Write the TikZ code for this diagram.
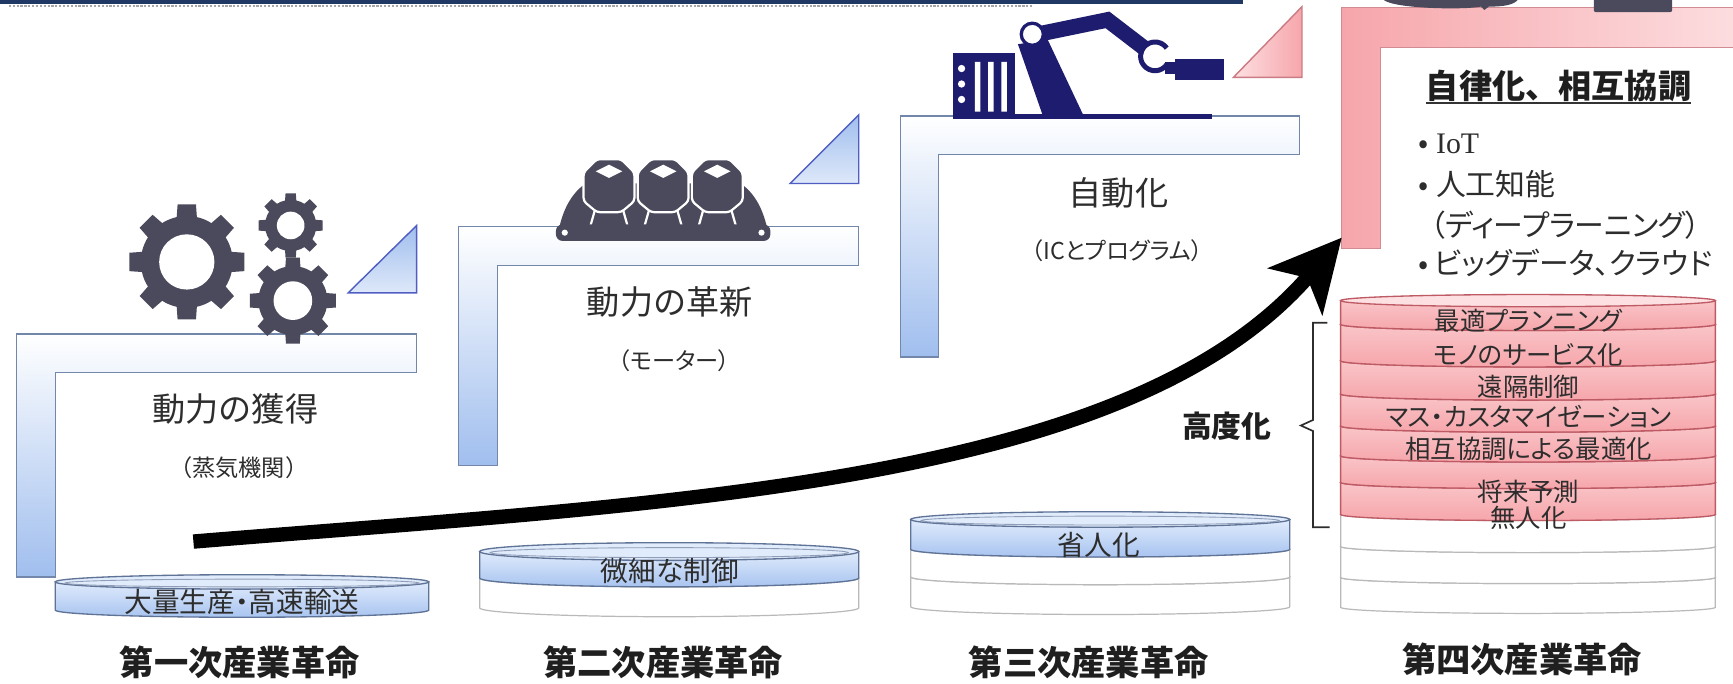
\documentclass[tikz,border=0pt]{standalone}
\usepackage{fontspec}
\setmainfont{Noto Sans CJK JP}
\newfontfamily\kanafont[RawFeature=+palt]{Noto Sans CJK JP}
\newfontfamily\latinserif{Liberation Serif}
\usetikzlibrary{arrows.meta}

\definecolor{navybar}{RGB}{31,56,100}
\definecolor{stepblue}{RGB}{160,190,238}
\definecolor{stepline}{RGB}{115,135,170}
\definecolor{discblue}{RGB}{168,196,240}
\definecolor{disctop}{RGB}{224,235,252}
\definecolor{discline}{RGB}{95,115,150}
\definecolor{pinkfill}{RGB}{246,166,171}
\definecolor{pinklight}{RGB}{253,224,226}
\definecolor{pinkline}{RGB}{190,90,100}
\definecolor{icongray}{RGB}{74,74,92}
\definecolor{robotnavy}{RGB}{30,28,110}
\definecolor{textgray}{RGB}{45,45,45}

\newcommand{\tsize}[1]{\fontsize{#1}{#1}\selectfont}
% L-shaped step: left, top, right end, bar bottom, post right, post bottom, style
\newcommand{\lstep}[7]{%
  \path[#7] (#1,#2) -- (#3,#2) -- (#3,#4) -- (#5,#4) -- (#5,#6) -- (#1,#6) -- cycle;}
% flat cylinder band: centre x, half width, top y, bottom y, ellipse half height, side style, top style
\newcommand{\discband}[7]{%
  \path[#6] (#1-#2,#3) -- (#1-#2,#4)
    arc[start angle=180,end angle=360,x radius=#2pt,y radius=#5pt] -- (#1+#2,#3) -- cycle;
  \path[#7] (#1,#3) ellipse[x radius=#2pt,y radius=#5pt];}

\tikzset{
  bluestep/.style={draw=stepline, line width=1.3pt, top color=white, bottom color=stepblue},
  pinkstep/.style={draw=pinkline!70, line width=1.3pt, left color=pinkfill, right color=pinklight},
  bluetri/.style={draw=stepline!70!blue, line width=1.3pt, top color=stepblue, bottom color=stepblue!35},
  pinktri/.style={draw=pinkline!80, line width=1.3pt, left color=pinklight, right color=pinkfill},
  blueside/.style={draw=discline, line width=1.2pt, top color=disctop, bottom color=discblue},
  bluetop/.style={draw=discline, line width=1.2pt, fill=disctop},
  whiteside/.style={draw=gray!55, line width=1.1pt, fill=white},
  whitetop/.style={draw=gray!55, line width=1.1pt, fill=white},
  pinkside/.style={draw=pinkline, line width=1.2pt, top color=pinkfill!65!white, bottom color=pinkfill},
  pinktop/.style={draw=pinkline, line width=1.2pt, fill=pinklight},
  headtext/.style={font=\tsize{30}, text=textgray, inner sep=0pt},
  subtext/.style={font=\tsize{21}, text=textgray, inner sep=0pt},
  subtextp/.style={font=\kanafont\tsize{21}, text=textgray, inner sep=0pt},
  eratext/.style={font=\bfseries\tsize{31}, text=black!88, inner sep=0pt},
  disctext/.style={font=\kanafont\tsize{25}, text=textgray, inner sep=0pt},
  stacktext/.style={font=\kanafont\tsize{23}, text=textgray, inner sep=0pt},
  boldhead/.style={font=\bfseries\tsize{30}, text=black!88, inner sep=0pt},
  bullettext/.style={font=\kanafont\tsize{27}, text=textgray, inner sep=0pt, anchor=west},
  pics/cog/.style args={#1/#2/#3}{code={
    \fill[icongray] (0,0) circle[radius=#2*0.8pt];
    \foreach \k in {1,...,#1}{
      \fill[icongray, rotate=\k*360/#1] (-#2*0.23,0) -- (-#2*0.16,#2) -- (#2*0.16,#2) -- (#2*0.23,0) -- cycle;
    }
    \fill[white] (0,0) circle[radius=#3pt];
  }}
}

\begin{document}
\begin{tikzpicture}[x=1pt,y=-1pt]
\useasboundingbox (0,0) rectangle (1568,618);
\fill[white] (0,0) rectangle (1568,618);

% header rule
\fill[navybar] (0,0) rectangle (1125,4);
\draw[gray!70, line width=2pt, dash pattern=on 2pt off 1.5pt] (8,5.5) -- (935,5.5);

% ---- steps ----
\lstep{15}{302}{377}{337}{50}{522}{bluestep}
\lstep{415}{205}{777}{240}{450}{421}{bluestep}
\lstep{815}{105}{1176}{140}{849}{323}{bluestep}
\lstep{1214}{7}{1590}{43}{1249}{225}{pinkstep}

\path[bluetri] (315,265) -- (377,265) -- (377,204) -- cycle;
\path[bluetri] (715,166) -- (777,166) -- (777,104) -- cycle;
\path[pinktri] (1116,70) -- (1178,70) -- (1178,6) -- cycle;

% ---- gears ----
\pic at (169,237) {cog=8/52/25};
\pic at (263,204) {cog=8/29/12.5};
\pic at (265,272) {cog=8/39/17.5};

% ---- conveyor with three blocks ----
\fill[icongray] (506,206) .. controls (510,188) and (518,174) .. (530,166) -- (670,166)
  .. controls (682,174) and (690,188) .. (694,206) -- cycle;
\foreach \cx in {551,600,649}{
  \filldraw[fill=icongray, draw=white, line width=2pt, rounded corners=3pt]
    (\cx-23,156) -- (\cx-11,144) -- (\cx+11,144) -- (\cx+23,156) -- (\cx+23,182)
    -- (\cx+11,192) -- (\cx-11,192) -- (\cx-23,182) -- cycle;
  \fill[white] (\cx-12,155) -- (\cx,149) -- (\cx+12,155) -- (\cx,161) -- cycle;
  \draw[white, line width=2pt] (\cx-13,191) -- (\cx-17,205) (\cx+13,191) -- (\cx+17,205);
}
\fill[icongray, rounded corners=6pt] (503,203) rectangle (697,218);
\fill[white] (511,210.5) circle[radius=2.8pt] (689,210.5) circle[radius=2.8pt];

% ---- robot arm ----
\fill[robotnavy] (862,48) rectangle (918,106);
\fill[white] (882,56) rectangle (887,101) (894,56) rectangle (899,101) (906,56) rectangle (911,101);
\fill[white] (870,62) circle[radius=3.3pt] (870,76) circle[radius=3.3pt] (870,90) circle[radius=3.3pt];
\fill[robotnavy] (862,103) rectangle (1097,108);
\fill[robotnavy] (944,106) -- (981,106) -- (948,36) -- (921,40) -- cycle;
\draw[robotnavy, line width=14pt] (934,32) -- (1002,18) -- (1045,51);
\fill[white] (1045,51) circle[radius=11pt];
\draw[robotnavy, line width=4.5pt] (1045,51) ++(35:13pt) arc[start angle=35,end angle=325,radius=13pt];
\fill[robotnavy] (1054,56) rectangle (1066,67);
\fill[robotnavy] (1063,53) rectangle (1107,72);
\filldraw[fill=white, draw=robotnavy, line width=3pt] (934,31) circle[radius=10pt];

% ---- shapes cut by the top edge ----
\fill[icongray] (1252,0) .. controls (1262,8) and (1325,9) .. (1340,6) -- (1343,9) -- (1347,6)
  .. controls (1362,6) and (1370,4) .. (1373,0) -- cycle;
\fill[icongray, rounded corners=2pt] (1442,-3) rectangle (1513,11);

% ---- discs ----
\discband{219}{169}{526.5}{552}{6.5}{blueside}{bluetop}
\draw[discline!70, line width=0.8pt] (219,527.5) ellipse[x radius=160pt,y radius=3.5pt];

\discband{605.5}{171.5}{523}{550}{8}{whiteside}{whitetop}
\discband{605.5}{171.5}{499}{523}{8}{blueside}{bluetop}
\draw[discline!70, line width=0.8pt] (605.5,500) ellipse[x radius=162pt,y radius=4.5pt];

\discband{995.5}{171.5}{522}{549}{7}{whiteside}{whitetop}
\discband{995.5}{171.5}{497}{522}{7}{whiteside}{whitetop}
\discband{995.5}{171.5}{470}{497}{7}{blueside}{bluetop}
\draw[discline!70, line width=0.8pt] (995.5,471) ellipse[x radius=162pt,y radius=4pt];

% stack of the fourth revolution, bottom layer first
\discband{1382.5}{169.5}{522.5}{549.5}{5.5}{whiteside}{whitetop}
\discband{1382.5}{169.5}{494.5}{522.5}{5.5}{whiteside}{whitetop}
\discband{1382.5}{169.5}{465.5}{494.5}{5.5}{whiteside}{whitetop}
\discband{1382.5}{169.5}{436.5}{465.5}{5.5}{pinkside}{pinktop}
\discband{1382.5}{169.5}{412.5}{436.5}{5.5}{pinkside}{pinktop}
\discband{1382.5}{169.5}{385.5}{412.5}{5.5}{pinkside}{pinktop}
\discband{1382.5}{169.5}{356.5}{385.5}{5.5}{pinkside}{pinktop}
\discband{1382.5}{169.5}{326.5}{356.5}{5.5}{pinkside}{pinktop}
\discband{1382.5}{169.5}{293.5}{326.5}{5.5}{pinkside}{pinktop}
\discband{1382.5}{169.5}{272}{293.5}{5.5}{pinkside}{pinktop}

% ---- texts ----
\node[headtext] (t1) at (213,370) {動力の獲得};
\node[subtext]  (s1) at (216,423) {（蒸気機関）};
\node[headtext] (t2) at (606,273) {動力の革新};
\node[subtextp] (s2) at (610,326) {（モーター）};
\node[headtext] (t3) at (1012,175) {自動化};
\node[subtextp] (s3) at (1011,227) {（ICとプログラム）};

\node[disctext] (d1) at (219,545) {大量生産・高速輸送};
\node[disctext] (d2) at (606,517) {微細な制御};
\node[disctext] (d3) at (994,493) {省人化};

\node[stacktext] (k1) at (1383,290) {最適プランニング};
\node[stacktext] (k2) at (1383,321) {モノのサービス化};
\node[stacktext] (k3) at (1383,350) {遠隔制御};
\node[stacktext] (k4) at (1383,377) {マス・カスタマイゼーション};
\node[stacktext] (k5) at (1383,406) {相互協調による最適化};
\node[stacktext] (k6) at (1383,445) {将来予測};
\node[stacktext] (k7) at (1383,469) {無人化};

\node[boldhead, anchor=west] (t4) at (1290,78) {自律化、相互協調};
\draw[black!80, line width=1.4pt] ([yshift=-4pt]t4.base west) -- ([yshift=-4pt]t4.base east);
\node[bullettext] (b1) at (1283,130) {•\hspace{7pt}{\latinserif IoT}};
\node[bullettext] (b2) at (1283,167) {•\hspace{7pt}人工知能};
\node[bullettext] (b3) at (1294,204) {（ディープラーニング）};
\node[bullettext] (b4) at (1283,238) {•\hspace{5pt}ビッグデータ、クラウド};

\node[boldhead, font=\bfseries\tsize{27}] (h1) at (1110,386) {高度化};
\draw[textgray, line width=1.5pt] (1201,292) -- (1188,292) -- (1188,380) -- (1177,385)
  -- (1188,390) -- (1188,477) -- (1203,477);

\node[eratext] (e1) at (217,599) {第一次産業革命};
\node[eratext] (e2) at (600,599) {第二次産業革命};
\node[eratext] (e3) at (985,599) {第三次産業革命};
\node[eratext] (e4) at (1377,597) {第四次産業革命};

% ---- progress arrow ----
\coordinate (arrowstart) at (175,490);
\coordinate (arrowtip) at (1214,215);
\draw[line width=13pt, -{Stealth[length=64pt,width=64pt,inset=16pt]}]
  (arrowstart) .. controls (600,455) and (1020,440) .. (arrowtip);
\end{tikzpicture}
\end{document}
